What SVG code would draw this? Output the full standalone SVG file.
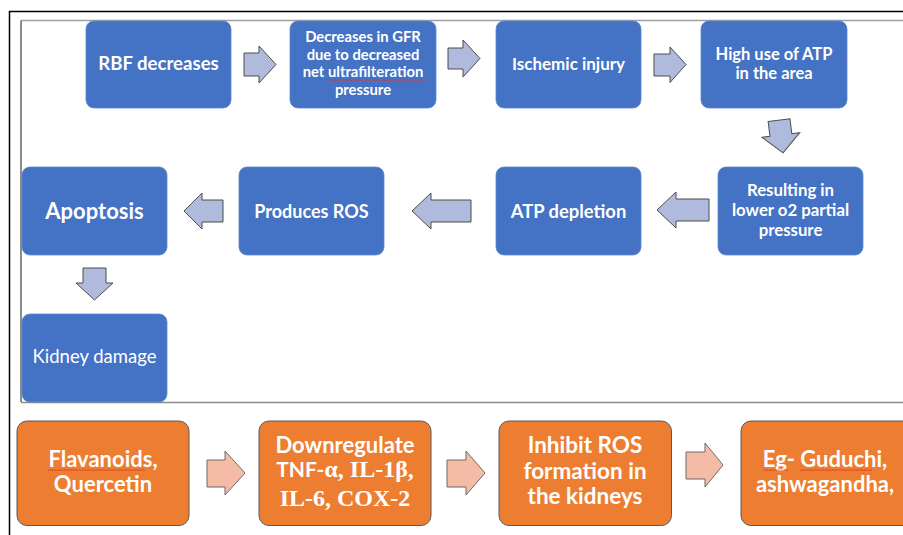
<svg xmlns="http://www.w3.org/2000/svg" width="903" height="535" viewBox="0 0 903 535">
<style>
.b{fill:#4472C4;stroke:#5f86cf;stroke-width:0.8}
.o{fill:#ED7D31;stroke:#5a5a5a;stroke-width:1}
.ab{fill:#AFBADC;stroke:#4d4d4d;stroke-width:1;stroke-linejoin:miter}
.ao{fill:#F4BBA7;stroke:#6b6b6b;stroke-width:1}
text{font-family:Lato,"Open Sans","Liberation Sans",sans-serif;font-weight:bold;fill:#fff;text-anchor:middle}
.tm{font-family:"Liberation Serif","Times New Roman",serif;font-weight:bold}
</style>
<defs>
<pattern id="zz" width="3" height="2" patternUnits="userSpaceOnUse">
<polyline points="0,1.6 0.75,0.4 1.5,1.6 2.25,0.4 3,1.6" fill="none" stroke="#e0302d" stroke-width="0.6"/>
</pattern>
</defs>
<rect width="903" height="535" fill="#fff"/>
<g id="frame">
<path d="M9.5,535 V11.5 H903" fill="none" stroke="#000" stroke-width="1.5"/>
<path d="M21,20.5 H903" fill="none" stroke="#a0a0a0" stroke-width="1.5"/>
<path d="M21,20.5 V402" fill="none" stroke="#404040" stroke-width="1.2"/>
<path d="M21,402.5 H903" fill="none" stroke="#8c8c8c" stroke-width="1.5"/>
</g>
<g id="connectors">
<polygon class="ab" points="244,53 259,53 259,46 276,64.5 259,83 259,76 244,76"/>
<polygon class="ab" points="448,48 463,48 463,40 480,58.5 463,77 463,69 448,69"/>
<polygon class="ab" points="654,54 670,54 670,47 686,64.5 670,82.5 670,76 654,76"/>
<polygon class="ab" transform="rotate(-7 781 136)" points="770,120 792,120 792,135 800,135 781,153 762,135 770,135"/>
<polygon class="ab" points="709,199 676,199 676,192 657,210 676,228 676,221 709,221"/>
<polygon class="ab" points="471,200 431,200 431,193 412,211 431,229 431,222 471,222"/>
<polygon class="ab" points="223,200 202,200 202,193 184,211 202,229 202,222 223,222"/>
<polygon class="ab" points="83,268 106,268 106,283 113,283 94.5,300 76,283 83,283"/>
<polygon class="ao" points="207,460 225,460 225,451 245,473 225,495 225,487 207,487"/>
<polygon class="ao" points="447,460 466,460 466,451 485,473 466,495 466,487 447,487"/>
<polygon class="ao" points="686,452 705,452 705,443 723,465 705,487 705,479 686,479"/>
</g>
<g id="n1"><rect class="b" x="86" y="21" width="145" height="87" rx="8"/><text x="158.5" y="70" font-size="18.6">RBF decreases</text></g>
<g id="n2"><rect class="b" x="290" y="21" width="146" height="87" rx="8"/>
<text x="363" y="42" font-size="14.8">Decreases in GFR</text>
<text x="363" y="59.5" font-size="14.8">due to decreased</text>
<text x="363" y="77" font-size="14.8">net ultrafilteration</text>
<text x="363" y="95" font-size="14.8">pressure</text>
<rect x="327" y="79" width="98" height="2" fill="url(#zz)"/></g>
<g id="n3"><rect class="b" x="496" y="21" width="145" height="87" rx="8"/><text x="568.5" y="69.5" font-size="17">Ischemic injury</text></g>
<g id="n4"><rect class="b" x="701" y="21" width="146" height="87" rx="8"/>
<text x="774" y="59.5" font-size="16.5">High use of ATP</text>
<text x="774" y="78.5" font-size="16.5">in the area</text></g>
<g id="n5"><rect class="b" x="718" y="167" width="145" height="88" rx="8"/>
<text x="790.5" y="196" font-size="16.8">Resulting in</text>
<text x="790.5" y="216" font-size="16.8">lower o2 partial</text>
<text x="790.5" y="236" font-size="16.8">pressure</text></g>
<g id="n6"><rect class="b" x="496" y="167" width="145" height="88" rx="8"/><text x="568.5" y="217.5" font-size="18.4">ATP depletion</text></g>
<g id="n7"><rect class="b" x="239" y="167" width="145" height="88" rx="8"/><text x="311.5" y="217.5" font-size="18">Produces ROS</text></g>
<g id="n8"><rect class="b" x="22" y="167" width="145" height="88" rx="8"/><text x="94.5" y="218.5" font-size="22">Apoptosis</text></g>
<g id="n9"><rect class="b" x="22" y="314" width="145" height="88" rx="8"/><text x="94.5" y="363" font-size="18.5" style="font-weight:normal">Kidney damage</text></g>
<g id="o1"><rect class="o" x="17" y="421" width="172" height="104.5" rx="10"/>
<text x="103" y="467" font-size="22">Flavanoids,</text>
<text x="103" y="492" font-size="22">Quercetin</text>
<rect x="48" y="469" width="97" height="2" fill="url(#zz)"/></g>
<g id="o2"><rect class="o" x="259" y="421" width="172" height="104.5" rx="10"/>
<text x="345" y="453" font-size="22">Downregulate</text>
<text x="345" y="477" font-size="21">TNF-<tspan class="tm" font-size="24">α, IL-1β,</tspan></text>
<text x="345" y="506" font-size="24" class="tm">IL-6, COX-2</text></g>
<g id="o3"><rect class="o" x="499" y="421" width="172.5" height="104.5" rx="10"/>
<text x="585" y="453" font-size="22.5">Inhibit ROS</text>
<text x="585" y="478.5" font-size="22.5">formation in</text>
<text x="585" y="504" font-size="22.5">the kidneys</text></g>
<g id="o4"><rect class="o" x="741" y="421" width="172" height="104.5" rx="10"/>
<text x="825" y="467" font-size="22">Eg- Guduchi,</text>
<text x="825" y="492" font-size="22">ashwagandha,</text>
<rect x="764" y="469" width="24" height="2" fill="url(#zz)"/>
<rect x="800" y="469" width="72" height="2" fill="url(#zz)"/></g>
</svg>
